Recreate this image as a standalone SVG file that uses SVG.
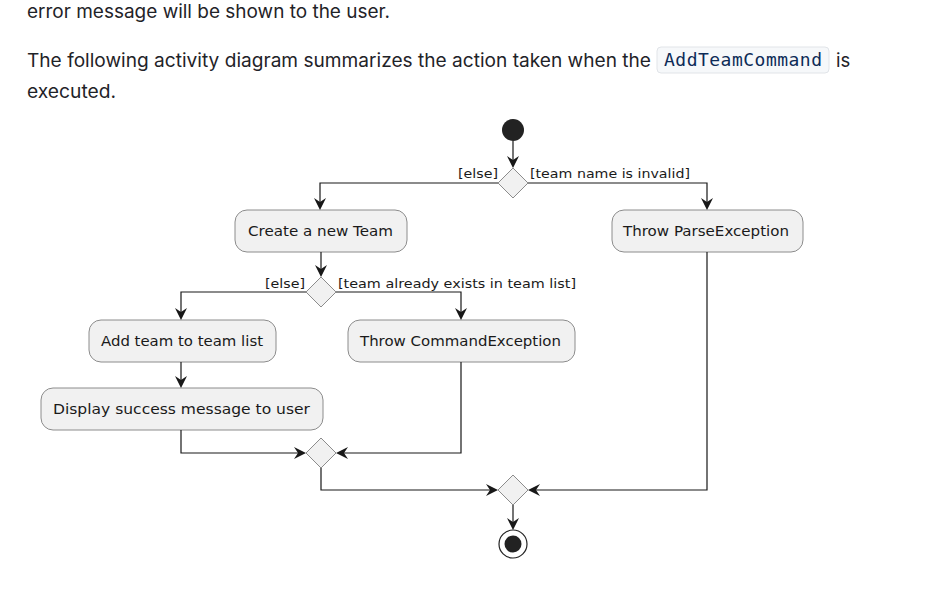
<svg xmlns="http://www.w3.org/2000/svg" width="937" height="595" viewBox="0 0 937 595">
<style>
.prose{font-family:Inter,"Liberation Sans",sans-serif;font-size:18.5px;fill:#1f2328}
.code{font-family:"DejaVu Sans Mono","Liberation Mono",monospace;font-size:18px;fill:#0d2b57}
.act rect{fill:#f1f1f1;stroke:#8c8c8c;stroke-width:1}
.act text{font-family:"DejaVu Sans",Verdana,sans-serif;font-size:14.5px;fill:#1a1a1a}
.dia{fill:#f1f1f1;stroke:#8c8c8c;stroke-width:1}
.lbl{font-family:"DejaVu Sans",Verdana,sans-serif;font-size:13px;fill:#1a1a1a}
.ln{fill:none;stroke:#181818;stroke-width:1.2}
.ah{fill:#181818}
</style>
<rect width="937" height="595" fill="#ffffff"/>
<text class="prose" x="27" y="18" textLength="363" lengthAdjust="spacingAndGlyphs">error message will be shown to the user.</text>
<text class="prose" x="27" y="67" textLength="624" lengthAdjust="spacingAndGlyphs">The following activity diagram summarizes the action taken when the</text>
<rect x="657" y="47" width="172" height="26" rx="4" fill="#f6f8fa" stroke="#e1e4e8"/>
<text class="code" x="664" y="66" textLength="158">AddTeamCommand</text>
<text class="prose" x="836" y="67">is</text>
<text class="prose" x="27" y="98" textLength="89" lengthAdjust="spacingAndGlyphs">executed.</text>

<g id="start"><circle cx="513" cy="130" r="11" fill="#222222"/></g>
<g id="decision1"><polygon class="dia" points="513,168 528,183 513,198 498,183"/></g>
<g id="create"  class="act"><rect x="235" y="210" width="172" height="42" rx="12"/><text x="248" y="236" textLength="145" lengthAdjust="spacingAndGlyphs">Create a new Team</text></g>
<g id="parseEx" class="act"><rect x="612" y="210" width="191" height="42" rx="12"/><text x="623" y="236" textLength="166" lengthAdjust="spacingAndGlyphs">Throw ParseException</text></g>
<g id="decision2"><polygon class="dia" points="321,277 336,292 321,307 306,292"/></g>
<g id="addTeam" class="act"><rect x="89" y="320" width="187" height="42" rx="12"/><text x="101" y="346" textLength="162" lengthAdjust="spacingAndGlyphs">Add team to team list</text></g>
<g id="cmdEx" class="act"><rect x="348" y="320" width="227" height="42" rx="12"/><text x="360" y="346" textLength="201" lengthAdjust="spacingAndGlyphs">Throw CommandException</text></g>
<g id="display" class="act"><rect x="41" y="388" width="282" height="42" rx="12"/><text x="53" y="414" textLength="257" lengthAdjust="spacingAndGlyphs">Display success message to user</text></g>
<g id="merge1"><polygon class="dia" points="321,438 336,453 321,468 306,453"/></g>
<g id="merge2"><polygon class="dia" points="513,475 528,490 513,505 498,490"/></g>
<g id="end"><circle cx="513" cy="544" r="14" fill="#ffffff" stroke="#222222" stroke-width="1.2"/><circle cx="513" cy="544" r="8.5" fill="#222222"/></g>

<g id="connectors">
<path class="ln" d="M513,141 V166"/>
<polygon class="ah" points="513,168 507,156 513,160 519,156"/>
<path class="ln" d="M498,183 H320 V208"/>
<polygon class="ah" points="320,210 314,198 320,202 326,198"/>
<path class="ln" d="M528,183 H707 V208"/>
<polygon class="ah" points="707,210 701,198 707,202 713,198"/>
<path class="ln" d="M321,252 V275"/>
<polygon class="ah" points="321,277 315,265 321,269 327,265"/>
<path class="ln" d="M306,292 H181 V318"/>
<polygon class="ah" points="181,320 175,308 181,312 187,308"/>
<path class="ln" d="M336,292 H461 V318"/>
<polygon class="ah" points="461,320 455,308 461,312 467,308"/>
<path class="ln" d="M181,362 V386"/>
<polygon class="ah" points="181,388 175,376 181,380 187,376"/>
<path class="ln" d="M181,430 V453 H304"/>
<polygon class="ah" points="306,453 294,447 298,453 294,459"/>
<path class="ln" d="M461,362 V453 H338"/>
<polygon class="ah" points="336,453 348,447 344,453 348,459"/>
<path class="ln" d="M321,468 V490 H496"/>
<polygon class="ah" points="498,490 486,484 490,490 486,496"/>
<path class="ln" d="M707,252 V490 H530"/>
<polygon class="ah" points="528,490 540,484 536,490 540,496"/>
<path class="ln" d="M513,505 V528"/>
<polygon class="ah" points="513,530 507,518 513,522 519,518"/>
<text class="lbl" x="458" y="178" textLength="40" lengthAdjust="spacingAndGlyphs">[else]</text>
<text class="lbl" x="530" y="178" textLength="160" lengthAdjust="spacingAndGlyphs">[team name is invalid]</text>
<text class="lbl" x="265" y="288" textLength="40" lengthAdjust="spacingAndGlyphs">[else]</text>
<text class="lbl" x="338" y="288" textLength="238" lengthAdjust="spacingAndGlyphs">[team already exists in team list]</text>
</g>
</svg>
